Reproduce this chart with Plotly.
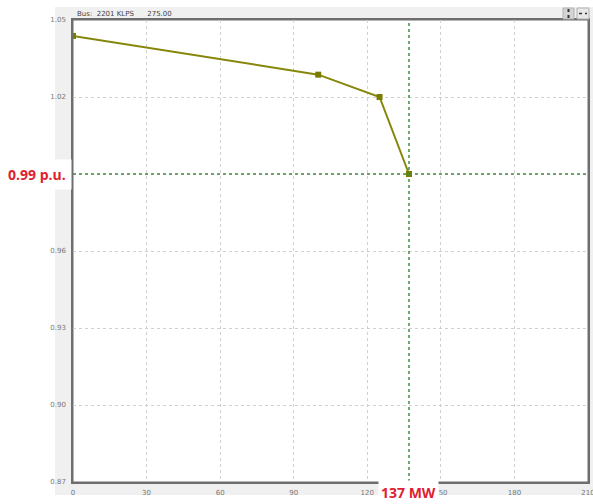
import plotly.graph_objects as go

# Data
p_mw = [0, 100, 125, 137]
v_pu = [1.0438, 1.0287, 1.020, 0.990]
x_ticks = [0, 30, 60, 90, 120, 150, 180, 210]
y_ticks = [0.87, 0.90, 0.93, 0.96, 0.99, 1.02, 1.05]
y_ticklabels = ["0.87", "0.90", "0.93", "0.96", "", "1.02", "1.05"]
crit_p = 137
crit_v = 0.99
title_text = "Bus:  2201 KLPS      275.00"

W, H = 593, 504
L, R, T, B = 73, 5, 20, 22
pw, ph = W - L - R, H - T - B

def px(xp):
    return (xp - L) / pw

def py(yp):
    return (H - B - yp) / ph

fig = go.Figure()
fig.add_trace(go.Scatter(
    x=p_mw, y=v_pu, mode="lines+markers",
    line=dict(color="#86870a", width=2),
    marker=dict(symbol="square", size=6, color="#7a7c00"),
    showlegend=False, hoverinfo="skip"))

shapes = [
    dict(type="rect", xref="paper", yref="paper", x0=px(55), x1=px(593), y0=py(495), y1=py(7),
         fillcolor="#f0f0f0", line=dict(width=0), layer="below"),
    dict(type="rect", xref="paper", yref="paper", x0=0, x1=1, y0=0, y1=1,
         fillcolor="white", line=dict(color="#6e6e6e", width=1), layer="below"),
    dict(type="line", xref="x", yref="paper", x0=crit_p, x1=crit_p, y0=0, y1=1,
         line=dict(color="#3f8f3f", width=1.5, dash="dot")),
    dict(type="line", xref="paper", yref="y", x0=0, x1=1, y0=crit_v, y1=crit_v,
         line=dict(color="#3f8f3f", width=1.5, dash="dot")),
    # toolbar icons
    dict(type="rect", xref="paper", yref="paper", x0=px(563), x1=px(574), y0=py(19), y1=py(8),
         fillcolor="#d4d4d4", line=dict(color="#b0b0b0", width=1)),
    dict(type="line", xref="paper", yref="paper", x0=px(568.5), x1=px(568.5), y0=py(18), y1=py(9),
         line=dict(color="#333", width=2, dash="dot")),
    dict(type="rect", xref="paper", yref="paper", x0=px(577), x1=px(589), y0=py(19), y1=py(8),
         fillcolor="#e8e8e8", line=dict(color="#b0b0b0", width=1)),
    dict(type="line", xref="paper", yref="paper", x0=px(579), x1=px(587), y0=py(13.5), y1=py(13.5),
         line=dict(color="#333", width=1.5, dash="dot")),
]

annotations = [
    dict(text=title_text, xref="paper", yref="paper", x=px(75), y=py(14), xanchor="left",
         yanchor="middle", showarrow=False, font=dict(size=7, color="#444", family="DejaVu Sans")),
    dict(text="<b>0.99 p.u.</b>", xref="paper", yref="y", x=px(37), y=crit_v, xanchor="center",
         yanchor="middle", showarrow=False, bgcolor="white", borderpad=5,
         font=dict(size=14, color="#e0202e", family="Open Sans")),
    dict(text="<b>137 MW</b>", xref="x", yref="paper", x=crit_p, y=py(493), xanchor="center",
         yanchor="middle", showarrow=False, bgcolor="white", borderpad=2,
         font=dict(size=14, color="#e0202e", family="Open Sans")),
]

fig.update_layout(
    width=W, height=H,
    margin=dict(l=L, r=R, t=T, b=B, pad=0, autoexpand=False),
    paper_bgcolor="white", plot_bgcolor="rgba(0,0,0,0)",
    shapes=shapes, annotations=annotations,
    xaxis=dict(range=[0, 210], tickvals=x_ticks, ticktext=[str(v) for v in x_ticks],
               automargin=False, ticklabeloverflow="allow",
               showgrid=True, gridcolor="#d0d0d0", griddash="dot", gridwidth=1,
               zeroline=False, showline=True, linecolor="#6e6e6e", linewidth=1.5, mirror=True,
               ticks="", tickfont=dict(size=7, color="#777"), ticklabelstandoff=3),
    yaxis=dict(range=[0.87, 1.05], tickvals=y_ticks, ticktext=y_ticklabels,
               automargin=False, ticklabeloverflow="allow",
               showgrid=True, gridcolor="#d0d0d0", griddash="dot", gridwidth=1,
               zeroline=False, showline=True, linecolor="#6e6e6e", linewidth=1.5, mirror=True,
               ticks="", tickfont=dict(size=7, color="#777"), ticklabelstandoff=4),
    font=dict(family="DejaVu Sans"),
)

fig.write_html("out.html", config={"displayModeBar": False},
               post_script="document.body.style.margin='0';document.body.style.overflow='hidden';")
